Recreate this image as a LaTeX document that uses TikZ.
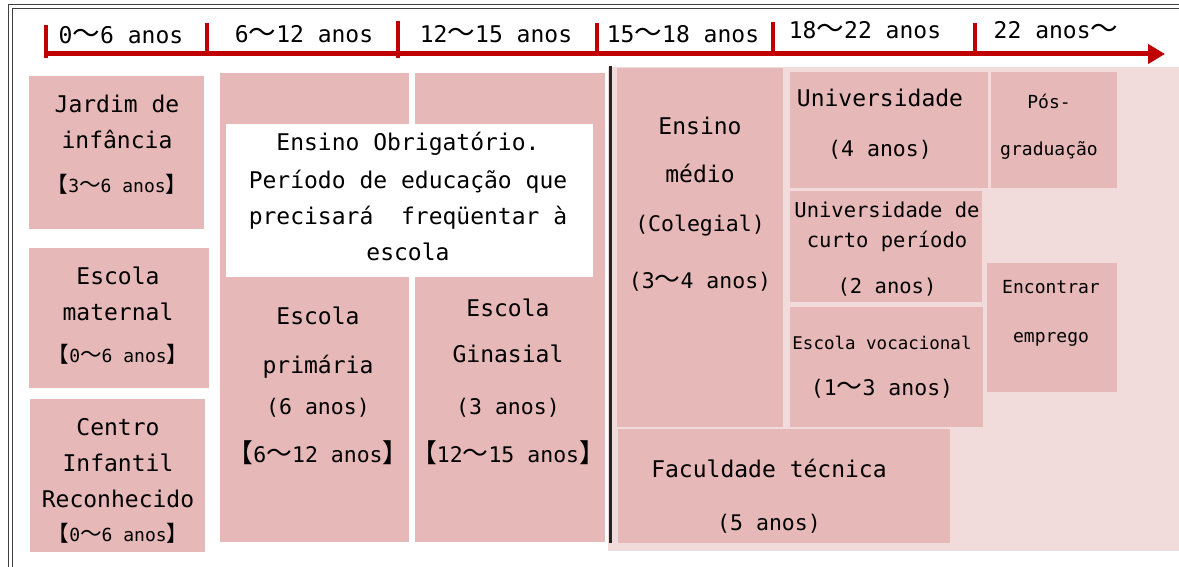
\documentclass[tikz,border=0pt]{standalone}
\usepackage{fontspec}
\setmainfont{DejaVu Sans Mono}
\newfontfamily\cjk[Scale=1.2]{Noto Sans CJK JP}
\usetikzlibrary{arrows.meta}
\definecolor{boxpink}{HTML}{E6B8B7}
\definecolor{bgpink}{HTML}{F2DCDB}
\definecolor{axisred}{HTML}{C00000}
\newcommand\wav{{\cjk ～}}
\newcommand\lbr{{\cjk 【}}
\newcommand\rbr{{\cjk 】}}
\newcommand\szL{\fontsize{23}{36}\selectfont}
\newcommand\szM{\fontsize{21.5}{30}\selectfont}
\newcommand\szS{\fontsize{18}{36}\selectfont}

\begin{document}
\begin{tikzpicture}[x=1pt,y=-1pt,
    box/.style={fill=boxpink},
    txt/.style={align=center, inner sep=0pt, font=\szL},
    age/.style={inner sep=0pt, font=\szL},
    agetick/.style={axisred, line width=4pt},
    axisline/.style={axisred, line width=5pt, -{Triangle[length=17pt,width=19pt]}}]
\useasboundingbox (0,0) rectangle (1179,567);
% frame
\draw[black!75,line width=1pt] (8,567) -- (8,5) -- (1179,5);
\draw[black!75,line width=1pt] (12,567) -- (12,9) -- (1179,9);
% age axis
\coordinate (axstart) at (44,54);
\coordinate (axend) at (1165,54);
\draw[axisline] (axstart) -- (axend);
\foreach \x/\top/\bot in {46/25/58, 207/23/54, 398/21/58, 597/23/54, 773/22/54, 975/23/54}
  \draw[agetick] (\x,\top) -- (\x,\bot);
\node[age] (a0) at (121,35) {0\wav 6 anos};
\node[age] (a6) at (304,34) {6\wav 12 anos};
\node[age] (a12) at (496,34) {12\wav 15 anos};
\node[age] (a15) at (683,34) {15\wav 18 anos};
\node[age] (a18) at (865,30) {18\wav 22 anos};
\node[age] (a22) at (1056,30) {22 anos\wav};
% boxes
\fill[bgpink] (608,67) rectangle (1179,551);
\fill[box] (29,76) rectangle (204,229);
\fill[box] (29,248) rectangle (209,388);
\fill[box] (30,399) rectangle (205,552);
\fill[box] (220,73) rectangle (409,542);
\fill[box] (415,73) rectangle (605,542);
\fill[white] (226,124) rectangle (593,277);
\fill[box] (617,68) rectangle (783,427);
\fill[box] (618,429) rectangle (950,543);
\fill[box] (790,72) rectangle (988,188);
\fill[box] (991,72) rectangle (1117,188);
\fill[box] (790,191) rectangle (982,302);
\fill[box] (790,307) rectangle (983,427);
\fill[box] (987,263) rectangle (1117,392);
\draw[black!85,line width=3pt] (610,66) -- (610,543);
% texts
\node[txt] (jardim) at (117,145) {Jardim de\\infância\\[8pt]{\szS\lbr 3\wav 6 anos\rbr}};
\node[txt] (maternal) at (118,316) {Escola\\maternal\\[6pt]{\szS\lbr 0\wav 6 anos\rbr}};
\node[txt] (centro) at (118,481) {Centro\\Infantil\\Reconhecido\\[-2pt]{\szS\lbr 0\wav 6 anos\rbr}};
\node[txt] (primaria) at (318,386) {Escola\\[13pt]primária\\[5pt]{\szM(6 anos)}\\[12pt]{\szM\lbr 6\wav 12 anos\rbr}};
\node[txt] (ginasial) at (508,382) {Escola\\[10pt]Ginasial\\[16pt]{\szM(3 anos)}\\[12pt]{\szM\lbr 12\wav 15 anos\rbr}};
\node[txt] (obrig) at (408,196) {Ensino Obrigatório.\\[2pt]Período de educação que\\precisará\ \ freqüentar à\\escola};
\node[txt] (medio) at (700,204) {Ensino\\[12pt]médio\\[13pt]{\szM(Colegial)}\\[21pt]{\szM(3\wav 4 anos)}};
\node[txt] (faculdade) at (769,496) {Faculdade técnica\\[17pt]{\szM(5 anos)}};
\node[txt] (univ) at (880,124) {Universidade\\[14pt]{\szM(4 anos)}};
\node[txt, font=\szS] (pos) at (1049,127) {Pós-\\[11pt]graduação};
\node[txt, font={\fontsize{20.5}{30}\selectfont}] (curto) at (887,249) {Universidade de\\curto período\\[16pt](2 anos)};
\node[txt] (vocac) at (882,367) {{\fontsize{17.5}{36}\selectfont Escola vocacional}\\[10pt]{\szM(1\wav 3 anos)}};
\node[txt, font=\szS] (emprego) at (1051,313) {Encontrar\\[13pt]emprego};
\end{tikzpicture}
\end{document}
